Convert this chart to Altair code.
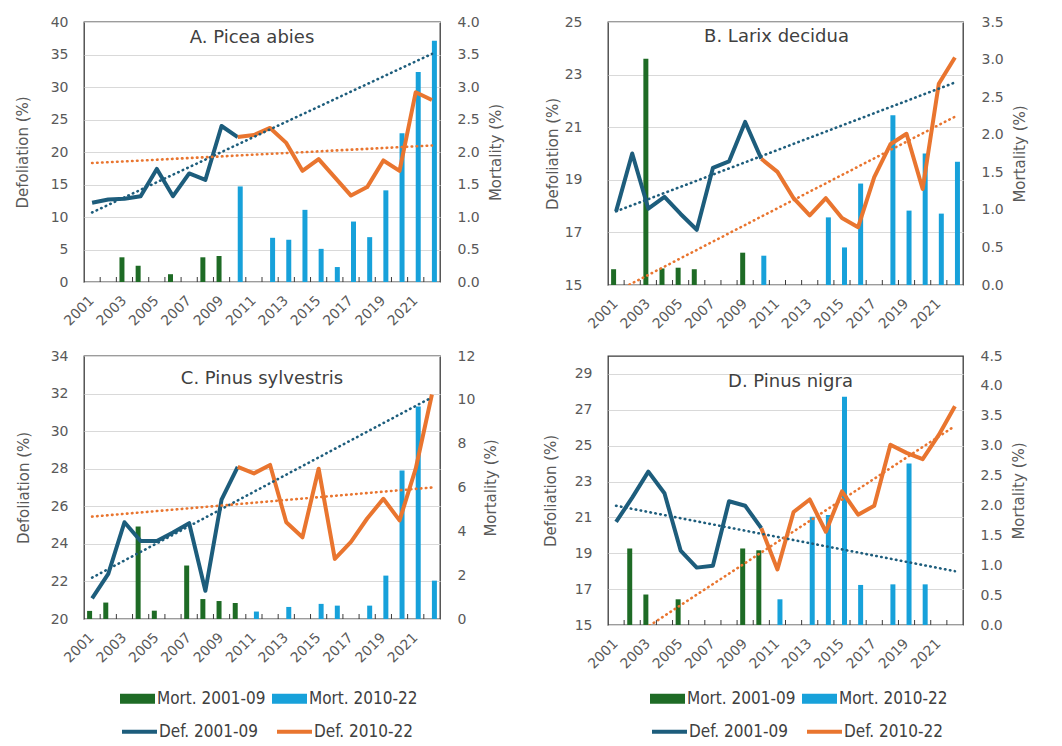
import altair as alt
import pandas as pd

YEARS = list(range(2001, 2023))
EARLY_YEARS = list(range(2001, 2011))
LATE_YEARS = list(range(2010, 2023))
TREND_YEARS = [2001, 2022]
MORT_SERIES = ["Mort. 2001-09", "Mort. 2010-22"]
DEF_SERIES = ["Def. 2001-09", "Def. 2010-22"]
N = None

# ---------------- Panel A. Picea abies ----------------
a_def_early = [12.2, 12.7, 12.8, 13.2, 17.4, 13.2, 16.7, 15.7, 24.0, 22.3]
a_def_late = [22.3, 22.6, 23.7, 21.4, 17.1, 18.9, 16.1, 13.3, 14.6, 18.7, 17.1, 29.2, 28.0]
a_mort_early = [N, N, 0.38, 0.25, N, 0.12, N, 0.38, 0.40, N, N, N, N, N, N, N, N, N, N, N, N, N]
a_mort_late = [N, N, N, N, N, N, N, N, N, 1.47, N, 0.68, 0.65, 1.11, 0.51, 0.23, 0.93, 0.69, 1.41, 2.29, 3.23, 3.71]
a_trend_early = [10.7, 35.1]
a_trend_late = [18.3, 21.0]

# ---------------- Panel B. Larix decidua ----------------
b_def_early = [17.8, 20.0, 17.9, 18.35, 17.7, 17.1, 19.45, 19.7, 21.2, 19.8]
b_def_late = [19.8, 19.3, 18.3, 17.65, 18.3, 17.55, 17.2, 19.1, 20.35, 20.75, 18.65, 22.65, 23.65]
b_mort_early = [0.21, N, 3.01, 0.22, 0.23, 0.21, N, N, 0.43, N, N, N, N, N, N, N, N, N, N, N, N, N]
b_mort_late = [N, N, N, N, N, N, N, N, N, 0.39, N, N, N, 0.90, 0.50, 1.35, N, 2.26, 0.99, 1.75, 0.95, 1.64]
b_trend_early = [17.8, 22.7]
b_trend_late = [14.75, 21.4]

# ---------------- Panel C. Pinus sylvestris ----------------
c_def_early = [21.1, 22.4, 25.15, 24.15, 24.15, 24.6, 25.1, 21.5, 26.35, 28.1]
c_def_late = [28.1, 27.75, 28.2, 25.15, 24.35, 28.0, 23.2, 24.1, 25.35, 26.4, 25.25, 28.0, 31.95]
c_mort_early = [0.37, 0.75, N, 4.22, 0.38, N, 2.44, 0.91, 0.82, 0.73, N, N, N, N, N, N, N, N, N, N, N, N]
c_mort_late = [N, N, N, N, N, N, N, N, N, N, 0.34, N, 0.55, N, 0.69, 0.61, N, 0.61, 1.98, 6.78, 9.70, 1.75]
c_trend_early = [22.2, 31.8]
c_trend_late = [25.45, 27.0]

# ---------------- Panel D. Pinus nigra ----------------
d_def_early = [20.75, 22.1, 23.55, 22.35, 19.15, 18.2, 18.3, 21.9, 21.65, 20.4]
d_def_late = [20.4, 18.1, 21.3, 22.0, 20.2, 22.45, 21.15, 21.65, 25.05, 24.6, 24.25, 25.6, 27.2]
d_mort_early = [N, 1.28, 0.51, N, 0.43, N, N, N, 1.28, 1.25, N, N, N, N, N, N, N, N, N, N, N, N]
d_mort_late = [N, N, N, N, N, N, N, N, N, N, 0.43, N, 1.81, 1.84, 3.82, 0.67, N, 0.68, 2.70, 0.68, N, N]
d_trend_early = [21.65, 18.0]
d_trend_late = [13.75, 26.1]

# ---------------- style ----------------
FONT = "DejaVu Sans"
LEG_FONT = "DejaVu Sans Condensed, Liberation Sans Narrow, Roboto Condensed, DejaVu Sans"
TXT = "#595959"
TITLE_C = "#404040"
GRID = "#d9d9d9"
FRAME = "#3a3a3a"
GREEN = "#1e6b25"
BLUE = "#17a1da"
NAVY = "#1d5d7c"
ORANGE = "#e9752f"
RECT_PATH = "M-1,-0.29L1,-0.29L1,0.29L-1,0.29Z"


def bars_frame(early, late):
    rows = []
    for y, v in zip(YEARS, early):
        if v is not None:
            rows.append({"year": y, "value": v, "series": MORT_SERIES[0]})
    for y, v in zip(YEARS, late):
        if v is not None:
            rows.append({"year": y, "value": v, "series": MORT_SERIES[1]})
    return pd.DataFrame(rows)


def lines_frame(early, late):
    rows = [{"year": y, "value": v, "series": DEF_SERIES[0]} for y, v in zip(EARLY_YEARS, early)]
    rows += [{"year": y, "value": v, "series": DEF_SERIES[1]} for y, v in zip(LATE_YEARS, late)]
    return pd.DataFrame(rows)


def trend_frame(early, late):
    rows = [{"year": y, "value": v, "series": DEF_SERIES[0]} for y, v in zip(TREND_YEARS, early)]
    rows += [{"year": y, "value": v, "series": DEF_SERIES[1]} for y, v in zip(TREND_YEARS, late)]
    return pd.DataFrame(rows)


def panel(title, title_dx, title_y, def_early, def_late, mort_early, mort_late, tr_early, tr_late,
          ldom, lvals, rdom, rvals, rfmt, W, H, lpad, ltpad, rpad, rtpad, legend_pos=None):
    x_scale = alt.Scale(domain=YEARS, paddingInner=0, paddingOuter=0)
    x_axis = alt.Axis(labelAngle=315, labelAlign="right", labelBaseline="middle",
                      labelPadding=16, labelExpr="datum.value % 2 == 1 ? datum.label : ''",
                      ticks=False, domain=False, grid=False, title=None,
                      labelFont=FONT, labelFontSize=14, labelColor=TXT)
    left_axis = alt.Axis(orient="left", values=lvals, title="Defoliation (%)", grid=True,
                         gridColor=GRID, gridWidth=1, ticks=False, domain=False,
                         labelPadding=lpad, titlePadding=ltpad, labelFont=FONT,
                         labelFontSize=14, labelColor=TXT, titleFont=FONT,
                         titleFontSize=15, titleColor=TXT, titleFontWeight="normal")
    right_axis = alt.Axis(orient="right", values=rvals, format=rfmt, title="Mortality (%)",
                          titleAngle=270, titleBaseline="top", grid=False, ticks=False,
                          domain=False, labelPadding=rpad, titlePadding=rtpad, labelFont=FONT,
                          labelFontSize=14, labelColor=TXT, titleFont=FONT,
                          titleFontSize=15, titleColor=TXT, titleFontWeight="normal")
    fill_legend = None
    stroke_legend = None
    if legend_pos is not None:
        lx, ly1, ly2 = legend_pos
        fill_legend = alt.Legend(orient="none", legendX=lx, legendY=ly1, direction="horizontal",
                                 title=None, symbolType=RECT_PATH, symbolSize=1225,
                                 symbolStrokeWidth=0, symbolOpacity=1, labelFont=LEG_FONT,
                                 labelFontSize=17, labelColor=TITLE_C, labelOffset=2,
                                 columnPadding=6, padding=0)
        stroke_legend = alt.Legend(orient="none", legendX=lx, legendY=ly2, direction="horizontal",
                                   title=None, symbolType="stroke", symbolSize=1225,
                                   symbolStrokeWidth=4, labelFont=LEG_FONT,
                                   labelFontSize=17, labelColor=TITLE_C, labelOffset=0,
                                   columnPadding=11, padding=0)

    bars = alt.Chart(bars_frame(mort_early, mort_late)).mark_bar().encode(
        x=alt.X("year:O", scale=x_scale, axis=x_axis),
        xOffset=alt.XOffset("series:N", scale=alt.Scale(domain=MORT_SERIES, paddingInner=0, paddingOuter=0.62)),
        y=alt.Y("value:Q", scale=alt.Scale(domain=rdom, nice=False, zero=True), axis=right_axis),
        fill=alt.Fill("series:N", scale=alt.Scale(domain=MORT_SERIES, range=[GREEN, BLUE]),
                      legend=fill_legend),
    )

    ticks = alt.Chart(pd.DataFrame({"year": YEARS[1:]})).mark_rule(color=FRAME, strokeWidth=1).encode(
        x=alt.X("year:O", bandPosition=0, scale=x_scale, axis=x_axis),
        y=alt.value(H - 5),
        y2=alt.value(H),
    )

    left_scale = alt.Scale(domain=ldom, nice=False, zero=False)
    stroke_scale = alt.Scale(domain=DEF_SERIES, range=[NAVY, ORANGE])
    lines = alt.Chart(lines_frame(def_early, def_late)).mark_line(strokeWidth=4, strokeJoin="round").encode(
        x=alt.X("year:O", scale=x_scale, axis=x_axis),
        y=alt.Y("value:Q", scale=left_scale, axis=left_axis),
        stroke=alt.Stroke("series:N", scale=stroke_scale, legend=stroke_legend),
    )
    trends = alt.Chart(trend_frame(tr_early, tr_late)).mark_line(
        strokeWidth=2.6, strokeDash=[0.5, 4.5], strokeCap="round", clip=True).encode(
        x=alt.X("year:O", scale=x_scale, axis=x_axis),
        y=alt.Y("value:Q", scale=left_scale, axis=left_axis),
        stroke=alt.Stroke("series:N", scale=stroke_scale, legend=stroke_legend),
    )
    label = alt.Chart(pd.DataFrame({"t": [title]})).mark_text(
        font=FONT, fontSize=18, color=TITLE_C, align="center", baseline="middle").encode(
        text="t:N", x=alt.value(W / 2 + title_dx), y=alt.value(title_y))
    defl = alt.layer(lines, trends, label)
    return alt.layer(bars, ticks, defl).resolve_scale(y="independent").properties(
        width=W, height=H)


W1, W2 = 356, 355

pA = panel("A. Picea abies", -10, 16, a_def_early, a_def_late, a_mort_early, a_mort_late,
           a_trend_early, a_trend_late, [0, 40], list(range(0, 41, 5)), [0, 4.0],
           [0, 0.5, 1.0, 1.5, 2.0, 2.5, 3.0, 3.5, 4.0], ".1f", W1, 260, 16, 20, 17, 9)
pB = panel("B. Larix decidua", -9, 15, b_def_early, b_def_late, b_mort_early, b_mort_late,
           b_trend_early, b_trend_late, [15, 25], list(range(15, 26, 2)), [0, 3.5],
           [0, 0.5, 1.0, 1.5, 2.0, 2.5, 3.0, 3.5], ".1f", W2, 263, 26, 4, 18, 9)
pC = panel("C. Pinus sylvestris", 0, 23, c_def_early, c_def_late, c_mort_early, c_mort_late,
           c_trend_early, c_trend_late, [20, 34], list(range(20, 35, 2)), [0, 12],
           list(range(0, 13, 2)), "d", W1, 263, 16, 19, 17, 9, legend_pos=(36, 325, 356))
pD = panel("D. Pinus nigra", 5, 26, d_def_early, d_def_late, d_mort_early, d_mort_late,
           d_trend_early, d_trend_late, [15, 30], list(range(15, 30, 2)), [0, 4.5],
           [0, 0.5, 1.0, 1.5, 2.0, 2.5, 3.0, 3.5, 4.0, 4.5], ".1f", W2, 269, 16, 16, 17, 9,
           legend_pos=(42, 325, 356))

chart = alt.concat(pA, pB, pC, pD, columns=2, spacing={"row": 16, "column": 38}).resolve_scale(
    fill="independent", stroke="independent"
).resolve_legend(fill="independent", stroke="independent").properties(
    padding={"left": 6, "top": 6, "right": 8, "bottom": 4},
    background="white",
).configure_view(stroke=FRAME, strokeWidth=1.3)

chart.save("out.html", embed_options={"renderer": "svg", "actions": False})
